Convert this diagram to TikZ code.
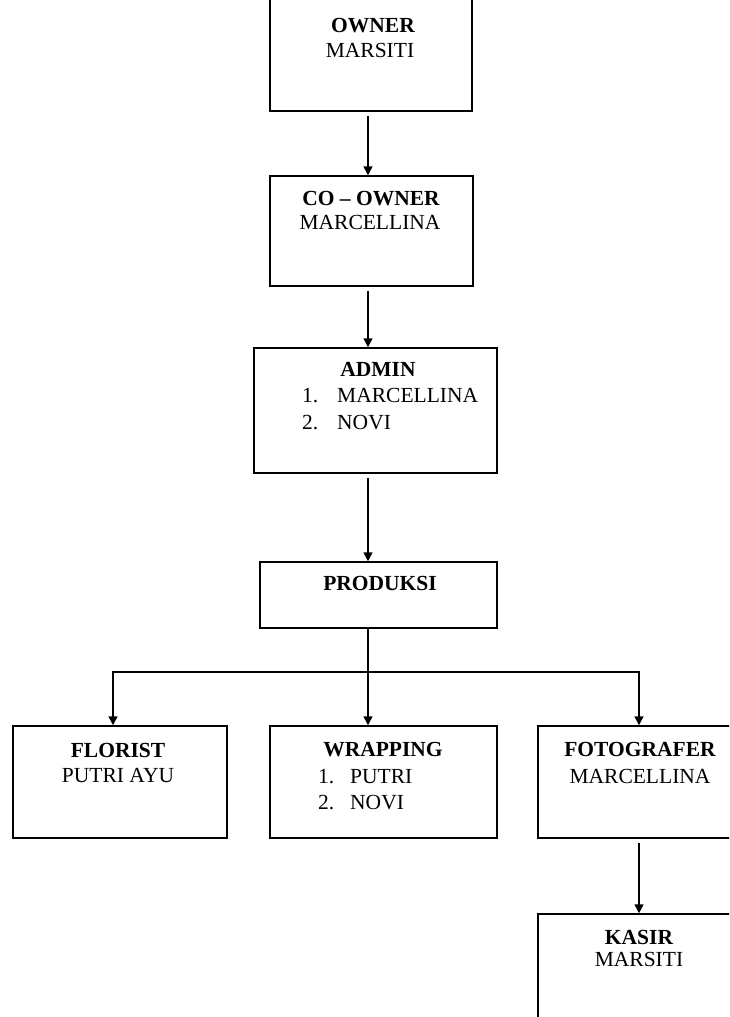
\documentclass[tikz,border=0pt]{standalone}
\usepackage{fontspec}
\setmainfont{Liberation Serif}
\usetikzlibrary{arrows.meta}
\tikzset{
  boxnode/.style={draw, line width=1.5pt, rectangle, inner sep=0pt},
  arr/.style={line width=1.5pt, -{Triangle[width=9pt,length=9pt]}},
  plain/.style={line width=1.5pt},
  txt/.style={anchor=base, inner sep=0pt, font=\fontsize{21.5}{26}\selectfont},
  btxt/.style={txt, font=\fontsize{21.5}{26}\selectfont\bfseries},
  ltxt/.style={anchor=base west, inner sep=0pt, font=\fontsize{21.5}{26}\selectfont}
}
\begin{document}
\begin{tikzpicture}[x=1pt,y=-1pt]
\useasboundingbox (0,0) rectangle (729,1017);
\clip (0,0) rectangle (729,1017);
% boxes
\node[boxnode, minimum width=202pt, minimum height=116pt] (owner) at (371,53) {};
\node[boxnode, minimum width=203pt, minimum height=110pt] (coowner) at (371.5,231) {};
\node[boxnode, minimum width=243pt, minimum height=125pt] (admin) at (375.5,410.5) {};
\node[boxnode, minimum width=237pt, minimum height=66pt] (produksi) at (378.5,595) {};
\node[boxnode, minimum width=214pt, minimum height=112pt] (florist) at (120,782) {};
\node[boxnode, minimum width=227pt, minimum height=112pt] (wrapping) at (383.5,782) {};
\node[boxnode, minimum width=227pt, minimum height=112pt] (fotografer) at (651.5,782) {};
\node[boxnode, minimum width=227pt, minimum height=150pt] (kasir) at (651.5,989) {};
% texts
\node[btxt] (ownerT) at (373,32) {OWNER};
\node[txt] (ownerN) at (370,57) {MARSITI};
\node[btxt] (coownerT) at (371,205) {CO – OWNER};
\node[txt] (coownerN) at (370,229) {MARCELLINA};
\node[btxt] (adminT) at (378,376) {ADMIN};
\node[ltxt] (adminA) at (302,402) {1.};
\node[ltxt] (adminB) at (337,402) {MARCELLINA};
\node[ltxt] (adminC) at (302,429) {2.};
\node[ltxt] (adminD) at (337,429) {NOVI};
\node[btxt] (produksiT) at (380,590) {PRODUKSI};
\node[btxt] (floristT) at (118,757) {FLORIST};
\node[txt] (floristN) at (118,782) {PUTRI AYU};
\node[btxt] (wrappingT) at (383,756) {WRAPPING};
\node[ltxt] (wrapA) at (318,783) {1.};
\node[ltxt] (wrapB) at (350,783) {PUTRI};
\node[ltxt] (wrapC) at (318,809) {2.};
\node[ltxt] (wrapD) at (350,809) {NOVI};
\node[btxt] (fotograferT) at (640,756) {FOTOGRAFER};
\node[txt] (fotograferN) at (640,783) {MARCELLINA};
\node[btxt] (kasirT) at (639,944) {KASIR};
\node[txt] (kasirN) at (639,966) {MARSITI};
% connector guides
\coordinate (spine) at (368,0);
\coordinate (flx) at (113,0);
\coordinate (fox) at (639,0);
\coordinate (bus) at (368,672);
% connectors
\draw[arr, shorten <=4pt] (owner.south -| spine) -- (coowner.north -| spine);
\draw[arr, shorten <=4pt] (coowner.south -| spine) -- (admin.north -| spine);
\draw[arr, shorten <=4pt] (admin.south -| spine) -- (produksi.north -| spine);
\draw[plain] (produksi.south -| spine) -- (bus);
\draw[arr] (bus) -- (wrapping.north -| spine);
\draw[arr] (bus) -| (florist.north -| flx);
\draw[arr] (bus) -| (fotografer.north -| fox);
\draw[arr, shorten <=4pt] (fotografer.south -| fox) -- (kasir.north -| fox);
\end{tikzpicture}
\end{document}
